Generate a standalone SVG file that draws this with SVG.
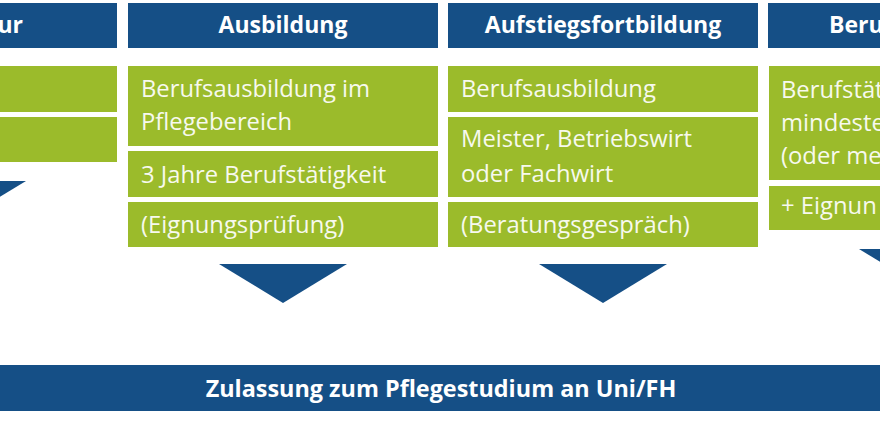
<svg xmlns="http://www.w3.org/2000/svg" width="880" height="422" viewBox="0 0 880 422">
<style>
.hdr{fill:#154f86}
.box{fill:#9bbb2b}
.arrow{fill:#154f86}
.ht{font-family:"Open Sans","Noto Sans",sans-serif;font-weight:bold;font-size:23px;fill:#ffffff;text-anchor:middle}
.bt{font-family:"Open Sans","Noto Sans",sans-serif;font-size:23.8px;fill:#f7f9ee}
.ft{font-family:"Open Sans","Noto Sans",sans-serif;font-weight:bold;font-size:23.4px;fill:#ffffff;text-anchor:middle}
</style>
<rect width="880" height="422" fill="#ffffff"/>
<g id="col1">
<rect class="hdr" x="-193" y="3" width="310" height="45"/>
<text class="ht" x="23" y="33" style="text-anchor:end">ur</text>
<rect class="box" x="-193" y="66" width="310" height="46"/>
<rect class="box" x="-193" y="117" width="310" height="45"/>
</g>
<g id="col2">
<rect class="hdr" x="128" y="3" width="310" height="45"/>
<text class="ht" x="283" y="33">Ausbildung</text>
<rect class="box" x="128" y="66" width="310" height="80"/>
<text class="bt" x="141" y="97">Berufsausbildung im</text>
<text class="bt" x="141" y="130">Pflegebereich</text>
<rect class="box" x="128" y="151" width="310" height="46"/>
<text class="bt" x="141" y="183">3 Jahre Berufstätigkeit</text>
<rect class="box" x="128" y="202" width="310" height="45"/>
<text class="bt" x="141" y="233">(Eignungsprüfung)</text>
</g>
<g id="col3">
<rect class="hdr" x="448" y="3" width="310" height="45"/>
<text class="ht" x="603" y="33">Aufstiegsfortbildung</text>
<rect class="box" x="448" y="66" width="310" height="46"/>
<text class="bt" x="461" y="97">Berufsausbildung</text>
<rect class="box" x="448" y="117" width="310" height="80"/>
<text class="bt" x="461" y="147">Meister, Betriebswirt</text>
<text class="bt" x="461" y="182">oder Fachwirt</text>
<rect class="box" x="448" y="202" width="310" height="45"/>
<text class="bt" x="461" y="233">(Beratungsgespräch)</text>
</g>
<g id="col4">
<rect class="hdr" x="768" y="3" width="310" height="45"/>
<text class="ht" x="829" y="33" style="text-anchor:start">Beru</text>
<rect class="box" x="769" y="66" width="310" height="114"/>
<text class="bt" x="781" y="98">Berufstät</text>
<text class="bt" x="781" y="131">mindeste</text>
<text class="bt" x="781" y="164">(oder me</text>
<rect class="box" x="769" y="186" width="310" height="44"/>
<text class="bt" x="781" y="214">+ Eignun</text>
</g>
<g id="connectors">
<polygon class="arrow" points="-102,181 26,181 -38,220"/>
<polygon class="arrow" points="219,264 347,264 283,303"/>
<polygon class="arrow" points="539,264 667,264 603,303"/>
<polygon class="arrow" points="859,249 987,249 923,288"/>
</g>
<g id="target">
<rect class="hdr" x="0" y="365" width="880" height="46"/>
<text class="ft" x="441" y="397">Zulassung zum Pflegestudium an Uni/FH</text>
</g>
</svg>
